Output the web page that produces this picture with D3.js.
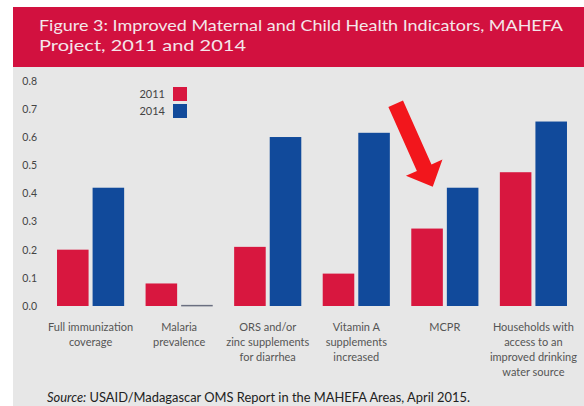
<!DOCTYPE html>
<html>
<head>
<meta charset="utf-8">
<script src="https://cdn.jsdelivr.net/npm/d3@7"></script>
<style>
  html, body { margin: 0; padding: 0; background: #ffffff; }
  svg { display: block; }
</style>
</head>
<body>
<svg id="chart" width="584" height="406"></svg>
<script>
// ---- data ----
const categories = [
  ["Full immunization", "coverage"],
  ["Malaria", "prevalence"],
  ["ORS and/or", "zinc supplements", "for diarrhea"],
  ["Vitamin A", "supplements", "increased"],
  ["MCPR"],
  ["Households with", "access to an", "improved drinking", "water source"]
];
const seriesNames = ["2011", "2014"];
const values2011 = [0.20, 0.08, 0.21, 0.115, 0.275, 0.475];
const values2014 = [0.42, 0.004, 0.60, 0.615, 0.42, 0.655];
const yTicks = [0.0, 0.1, 0.2, 0.3, 0.4, 0.5, 0.6, 0.7, 0.8];
const yTickLabels = ["0.0", "0.1", "0.2", "0.3", "0.4", "0.5", "0.6", "0.7", "0.8"];
const titleLines = ["Figure 3:  Improved Maternal and Child Health Indicators, MAHEFA", "Project, 2011 and 2014"];
const sourceItalic = "Source:";
const sourceText = " USAID/Madagascar OMS Report in the MAHEFA Areas, April 2015.";

// ---- styles ----
const colors = { "2011": "#d8173f", "2014": "#114a9b" };
const FONT = "Lato, 'Open Sans', sans-serif";

const svg = d3.select("#chart");

// background panels
svg.append("rect").attr("x", 13).attr("y", 67).attr("width", 571).attr("height", 339).attr("fill", "#e7e7e7");
svg.append("rect").attr("x", 13).attr("y", 7).attr("width", 571).attr("height", 60).attr("fill", "#d2113f");

// title
const tl = svg.append("g").attr("font-family", FONT).attr("fill", "#f4e6ea").attr("font-size", 16);
tl.append("text").attr("x", 39).attr("y", 31).text(titleLines[0])
  .attr("textLength", 524).attr("lengthAdjust", "spacingAndGlyphs");
tl.append("text").attr("x", 39).attr("y", 51).text(titleLines[1])
  .attr("textLength", 207).attr("lengthAdjust", "spacingAndGlyphs");

// scales
const keys = categories.map(c => c.join(" "));
const x0 = d3.scaleBand().domain(keys).range([46.3, 577.7]).paddingInner(0.242).paddingOuter(0.121);
const x1 = d3.scaleBand().domain(seriesNames).range([0, x0.bandwidth()]).paddingInner(0.113).paddingOuter(0);
const y = d3.scaleLinear().domain([0, 0.8]).range([306, 80.7]);

// y axis labels
const yAxis = d3.axisLeft(y).tickValues(yTicks).tickFormat((d, i) => yTickLabels[i]).tickSize(0).tickPadding(0);
const yg = svg.append("g").attr("transform", "translate(37,0)").call(yAxis);
yg.select(".domain").remove();
yg.selectAll("text").attr("font-family", FONT).attr("font-size", 10.5).attr("fill", "#444");

// bars
const rows = keys.map((k, i) => ({ key: k, vals: [values2011[i], values2014[i]] }));
const groups = svg.append("g").selectAll("g").data(rows).join("g")
  .attr("transform", d => `translate(${x0(d.key)},0)`);
groups.selectAll("rect").data(d => d.vals.map((v, j) => ({ s: seriesNames[j], v })))
  .join("rect")
  .attr("x", d => x1(d.s))
  .attr("width", x1.bandwidth())
  .attr("y", d => y(d.v))
  .attr("height", d => Math.max(1.5, y(0) - y(d.v)))
  .attr("fill", d => d.v < 0.01 ? "#6a6f80" : colors[d.s]);

// category labels
const lab = svg.append("g").attr("font-family", FONT).attr("font-size", 11).attr("fill", "#555").attr("text-anchor", "middle");
categories.forEach((lines, i) => {
  const cx = x0(keys[i]) + x0.bandwidth() / 2;
  lines.forEach((ln, j) => {
    lab.append("text").attr("x", cx).attr("y", 331 + j * 15).text(ln);
  });
});

// legend
const lg = svg.append("g").attr("font-family", FONT).attr("font-size", 11).attr("fill", "#444");
seriesNames.forEach((s, i) => {
  lg.append("rect").attr("x", 173).attr("y", 87 + i * 17).attr("width", 14).attr("height", 14).attr("fill", colors[s]);
  lg.append("text").attr("x", 165).attr("y", 94 + i * 17).attr("dy", "0.35em").attr("text-anchor", "end").text(s);
});

// arrow annotation pointing at MCPR
(function () {
  const mk = keys[4];
  const tipX = x0(mk) + x1("2011") + x1.bandwidth() * 0.68;
  const tipY = y(0.423);
  const ang = Math.atan2(83, 37);
  const len = 91, headLen = 21, headHalf = 20, shaftHalf = 8;
  const ux = Math.cos(ang), uy = Math.sin(ang);
  const px = -uy, py = ux;
  const sx = tipX - ux * len, sy = tipY - uy * len;
  const bx = tipX - ux * headLen, by = tipY - uy * headLen;
  const pts = [
    [sx + px * shaftHalf, sy + py * shaftHalf],
    [bx + px * shaftHalf, by + py * shaftHalf],
    [bx + px * headHalf, by + py * headHalf],
    [tipX, tipY],
    [bx - px * headHalf, by - py * headHalf],
    [bx - px * shaftHalf, by - py * shaftHalf],
    [sx - px * shaftHalf, sy - py * shaftHalf]
  ];
  svg.append("path").attr("d", d3.line()(pts) + "Z").attr("fill", "#f2161c");
})();

// source
const src = svg.append("text").attr("x", 47).attr("y", 402).attr("font-family", FONT).attr("font-size", 12.5).attr("fill", "#222")
  .attr("textLength", 423).attr("lengthAdjust", "spacingAndGlyphs");
src.append("tspan").attr("font-style", "italic").text(sourceItalic);
src.append("tspan").text(sourceText);
</script>
</body>
</html>
